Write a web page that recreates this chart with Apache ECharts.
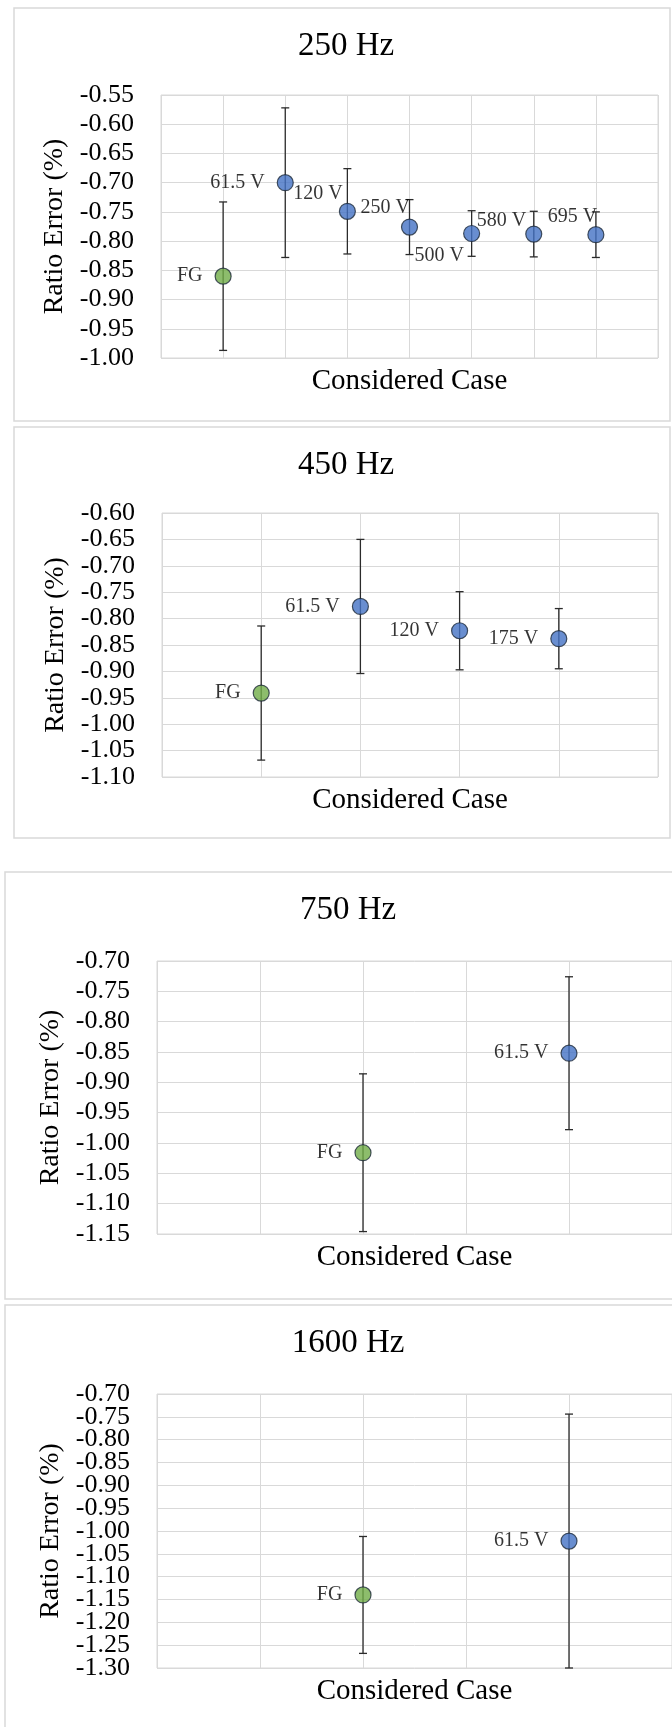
<!DOCTYPE html>
<html>
<head>
<meta charset="utf-8">
<script src="https://cdn.jsdelivr.net/npm/echarts@6/dist/echarts.min.js"></script>
<style>
    html, body { margin: 0; padding: 0; background: #fff; }
    #chart { width: 672px; height: 1727px; }
</style>
</head>
<body>
<div id="chart"></div>
<script>
// Data (mean ratio error and +/- error bar)
const titles = ['250 Hz', '450 Hz', '750 Hz', '1600 Hz'];

const cases250 = ['FG', '61.5 V', '120 V', '250 V', '500 V', '580 V', '695 V'];
const slots250 = [1, 2, 3, 4, 5, 6, 7];
const mean250 = [-0.860, -0.700, -0.749, -0.776, -0.787, -0.788, -0.789];
const err250 = [0.127, 0.128, 0.073, 0.047, 0.039, 0.039, 0.039];

const cases450 = ['FG', '61.5 V', '120 V', '175 V'];
const slots450 = [1, 2, 3, 4];
const mean450 = [-0.941, -0.777, -0.823, -0.838];
const err450 = [0.127, 0.127, 0.074, 0.057];

const cases750 = ['FG', '61.5 V'];
const slots750 = [2, 4];
const mean750 = [-1.016, -0.852];
const err750 = [0.130, 0.126];

const cases1600 = ['FG', '61.5 V'];
const slots1600 = [2, 4];
const mean1600 = [-1.140, -1.022];
const err1600 = [0.128, 0.278];

// y axis ranges (tick step 0.05)
const yRanges = [[-1.00, -0.55], [-1.10, -0.60], [-1.15, -0.70], [-1.30, -0.70]];
const yStep = 0.05;
const xSlotsMax = [8, 5, 5, 5];

// Layout of each panel (frame box, plot box, title center)
const layouts = [
    { frame: [14, 8, 656, 413], grid: { left: 161, top: 95, width: 497, height: 263 }, title: [346, 46] },
    { frame: [14, 427, 656, 411], grid: { left: 162, top: 513, width: 496, height: 264 }, title: [346, 465] },
    { frame: [5, 872, 700, 427], grid: { left: 157, top: 961, width: 515, height: 273 }, title: [348, 910] },
    { frame: [5, 1305, 700, 440], grid: { left: 157, top: 1394, width: 515, height: 274 }, title: [348, 1343] }
];

// Hand-placed labels in the 250 Hz panel
const labelShift250 = [[0, 0], [0, 0], [16, -18], [21, -19], [13, 22], [13, -13], [22, -18]];

const FONT = 'Liberation Serif';
const BLUE = '#4472C4';
const GREEN = '#70AD47';

const panels = [
    { cases: cases250, slots: slots250, mean: mean250, err: err250, shift: labelShift250 },
    { cases: cases450, slots: slots450, mean: mean450, err: err450 },
    { cases: cases750, slots: slots750, mean: mean750, err: err750 },
    // ticks are packed tight here, so labels are split over two stacked axes
    { cases: cases1600, slots: slots1600, mean: mean1600, err: err1600, splitLabels: true }
];

/**
 * Draw one error bar with caps
 */
function renderErrorBar(params, api) {
    const x = api.value(0);
    const lo = api.coord([x, api.value(1)]);
    const hi = api.coord([x, api.value(2)]);
    const w = 4;
    const style = { stroke: '#2b2b2b', lineWidth: 1.3, fill: null };
    return {
        type: 'group',
        children: [
            { type: 'line', shape: { x1: hi[0], y1: hi[1], x2: lo[0], y2: lo[1] }, style: style },
            { type: 'line', shape: { x1: hi[0] - w, y1: hi[1], x2: hi[0] + w, y2: hi[1] }, style: style },
            { type: 'line', shape: { x1: lo[0] - w, y1: lo[1], x2: lo[0] + w, y2: lo[1] }, style: style }
        ]
    };
}

/**
 * y axis label formatter; parity = null shows all ticks
 */
function tickFormatter(min, parity) {
    return function (v) {
        const k = Math.round((v - min) / yStep);
        if (parity !== null && k % 2 !== parity) return '';
        return v.toFixed(2);
    };
}

function makeYAxis(i, parity, withName) {
    return {
        type: 'value',
        gridIndex: i,
        position: 'left',
        min: yRanges[i][0],
        max: yRanges[i][1],
        interval: yStep,
        name: withName ? 'Ratio Error (%)' : '',
        nameLocation: 'middle',
        nameRotate: 90,
        nameGap: 88,
        nameTextStyle: { fontFamily: FONT, fontSize: 28, color: '#000' },
        axisLine: { show: false },
        axisTick: { show: false },
        axisLabel: {
            margin: 27,
            fontFamily: FONT,
            fontSize: 26,
            color: '#000',
            hideOverlap: false,
            showMinLabel: true,
            showMaxLabel: true,
            formatter: tickFormatter(yRanges[i][0], parity)
        },
        splitLine: { show: withName, lineStyle: { color: '#d9d9d9', width: 1 } }
    };
}

const grid = [];
const xAxis = [];
const yAxis = [];
const series = [];
const graphic = [];

panels.forEach(function (p, i) {
    const lay = layouts[i];

    // panel frame
    graphic.push({
        type: 'rect',
        shape: { x: lay.frame[0], y: lay.frame[1], width: lay.frame[2], height: lay.frame[3] },
        style: { fill: null, stroke: '#d9d9d9', lineWidth: 1.5 },
        z: 0
    });
    // panel title
    graphic.push({
        type: 'text',
        x: lay.title[0],
        y: lay.title[1],
        style: {
            text: titles[i],
            fontFamily: FONT,
            fontSize: 33,
            fill: '#000',
            textAlign: 'center',
            textVerticalAlign: 'middle'
        }
    });

    grid.push(Object.assign({
        show: true,
        borderColor: '#d9d9d9',
        borderWidth: 1,
        backgroundColor: 'transparent',
        containLabel: false,
        outerBoundsMode: 'none'
    }, lay.grid));

    xAxis.push({
        type: 'value',
        gridIndex: i,
        min: 0,
        max: xSlotsMax[i],
        interval: 1,
        name: 'Considered Case',
        nameLocation: 'middle',
        nameGap: 9,
        nameTextStyle: { fontFamily: FONT, fontSize: 29, color: '#000' },
        axisLine: { show: false },
        axisTick: { show: false },
        axisLabel: { show: false },
        splitLine: { show: true, lineStyle: { color: '#d9d9d9', width: 1 } }
    });

    const yIndex = yAxis.length;
    if (p.splitLabels) {
        yAxis.push(makeYAxis(i, 0, true));
        yAxis.push(makeYAxis(i, 1, false));
    } else {
        yAxis.push(makeYAxis(i, null, true));
    }

    // error bars
    series.push({
        type: 'custom',
        xAxisIndex: i,
        yAxisIndex: yIndex,
        renderItem: renderErrorBar,
        encode: { x: 0, y: [1, 2] },
        data: p.mean.map(function (m, k) {
            return [p.slots[k], m - p.err[k], m + p.err[k]];
        }),
        z: 2,
        silent: true
    });

    // points with labels
    series.push({
        type: 'scatter',
        xAxisIndex: i,
        yAxisIndex: yIndex,
        symbol: 'circle',
        symbolSize: 16,
        z: 3,
        label: {
            show: true,
            position: 'left',
            distance: 12,
            fontFamily: FONT,
            fontSize: 20,
            color: '#000',
            formatter: function (d) { return p.cases[d.dataIndex]; }
        },
        data: p.mean.map(function (m, k) {
            const item = {
                value: [p.slots[k], m],
                itemStyle: {
                    color: p.cases[k] === 'FG' ? GREEN : BLUE,
                    borderColor: '#1e2a3a',
                    borderWidth: 1.2
                }
            };
            if (p.shift) {
                item.label = { offset: p.shift[k] };
            }
            return item;
        })
    });
});

const myChart = echarts.init(document.getElementById('chart'), null, { renderer: 'canvas' });
myChart.setOption({
    animation: false,
    backgroundColor: '#fff',
    grid: grid,
    xAxis: xAxis,
    yAxis: yAxis,
    series: series,
    graphic: graphic
});
</script>
</body>
</html>
